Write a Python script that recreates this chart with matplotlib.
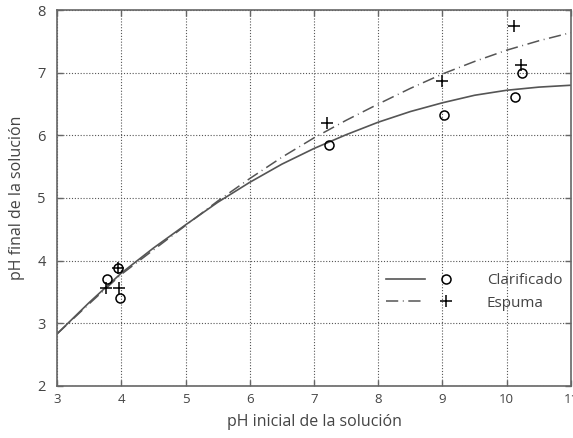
import matplotlib
matplotlib.use("Agg")
import matplotlib.pyplot as plt
from matplotlib.legend_handler import HandlerTuple

plt.rcParams["font.family"] = ["Open Sans", "DejaVu Sans"]

# Measured points
clar_x = [3.78, 3.95, 3.98, 7.23, 9.02, 10.13, 10.24]
clar_y = [3.70, 3.88, 3.41, 5.85, 6.32, 6.62, 7.00]
esp_x = [3.76, 3.95, 3.96, 7.21, 9.00, 10.12, 10.22]
esp_y = [3.57, 3.88, 3.56, 6.19, 6.87, 7.75, 7.13]

# Fitted curves
curve_x = [3, 3.5, 4, 4.5, 5, 5.5, 6, 6.5, 7, 7.5, 8, 8.5, 9, 9.5, 10, 10.5, 11]
clar_fit = [2.83, 3.33, 3.80, 4.20, 4.57, 4.93, 5.25, 5.54, 5.79, 6.01, 6.21,
            6.38, 6.52, 6.64, 6.72, 6.77, 6.80]
esp_fit = [2.83, 3.31, 3.78, 4.17, 4.56, 4.95, 5.31, 5.65, 5.96, 6.24, 6.50,
           6.75, 6.98, 7.18, 7.36, 7.51, 7.64]

txt = "#444444"
line_c = "#555555"

fig = plt.figure(figsize=(5.73, 4.38), dpi=100)
ax = fig.add_axes([0.0995, 0.119, 0.897, 0.858])

ax.grid(True, color="#555555", linestyle=(0, (1, 1.6)), linewidth=0.8)
ax.set_axisbelow(True)

l1, = ax.plot(curve_x, clar_fit, color=line_c, linewidth=1.2)
l2, = ax.plot(curve_x, esp_fit, color=line_c, linewidth=1.1,
              linestyle=(0, (8, 3, 0.6, 3)))
m1, = ax.plot(clar_x, clar_y, "o", mfc="none", mec="black", mew=1.1, ms=6.5,
              linestyle="none")
m2, = ax.plot(esp_x, esp_y, "+", color="black", mew=1.1, ms=8,
              linestyle="none")

ax.set_xlim(3, 11)
ax.set_ylim(2, 8)
ax.set_xticks(range(3, 12))
ax.set_yticks(range(2, 9))
ax.tick_params(direction="in", length=4, width=1, colors="#666666",
               top=True, right=True, labelcolor=txt)
ax.tick_params(axis="x", labelsize=9.5, pad=5)
ax.tick_params(axis="y", labelsize=10.5, pad=8)
for s in ax.spines.values():
    s.set_color("#666666")
    s.set_linewidth(1.2)

ax.set_xlabel("pH inicial de la solución", fontsize=11.5, color=txt, labelpad=6)
ax.set_ylabel("pH final de la solución", fontsize=11.5, color=txt, labelpad=9)

leg = ax.legend([(l1, m1), (l2, m2)], ["Clarificado", "Espuma"],
                handler_map={tuple: HandlerTuple(ndivide=None, pad=0.1)},
                handlelength=5.2, frameon=False, loc="center right",
                bbox_to_anchor=(1.01, 0.25), fontsize=11, labelspacing=0.5,
                handletextpad=1.4)
for t in leg.get_texts():
    t.set_color(txt)

fig.savefig("out.png", dpi=100)
